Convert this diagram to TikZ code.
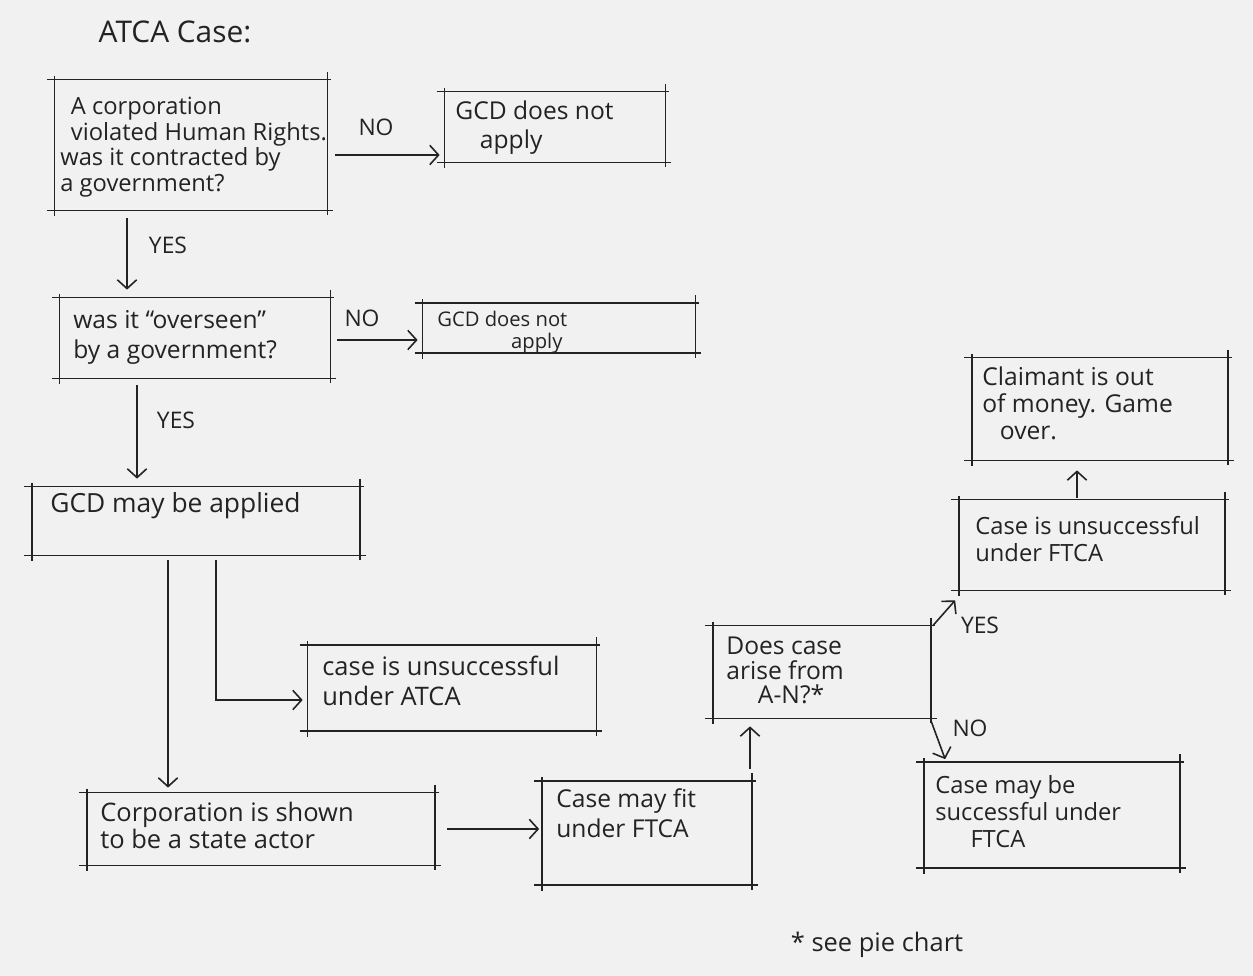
\documentclass[tikz,border=0pt]{standalone}
\usepackage{fontspec}
\setmainfont{Open Sans}
\usetikzlibrary{calc,arrows.meta}
\definecolor{paper}{RGB}{241,241,241}
\definecolor{ink}{RGB}{35,35,35}
\newcommand\handbox[1]{%
  \draw[edge] ($(#1.north west)+(-8,0)$) -- ($(#1.north east)+(4,0)$);
  \draw[edge] ($(#1.south west)+(-8,0)$) -- ($(#1.south east)+(6,0)$);
  \draw[edge] ($(#1.north west)+(0,-4)$) -- ($(#1.south west)+(0,6)$);
  \draw[edge] ($(#1.north east)+(0,-8)$) -- ($(#1.south east)+(0,5)$);
}
\begin{document}
\begin{tikzpicture}[x=0.02cm,y=-0.02cm,
  edge/.style={draw=ink,line width=0.9pt},
  box/.style={draw=none,inner sep=0pt},
  txt/.style={anchor=north west,inner sep=0pt,align=left,text=ink,font=\fontsize{13.5}{15.5}\selectfont},
  lbl/.style={inner sep=0pt,text=ink,font=\fontsize{13}{15}\selectfont},
  arr/.style={draw=ink,line width=0.9pt,-{Straight Barb[length=5pt,width=11pt]}}]
\fill[paper] (0,0) rectangle (1253,976);
\useasboundingbox (0,0) rectangle (1253,976);

\node[lbl,font=\fontsize{17}{19}\selectfont] (title) at (175,32) {ATCA Case:};

% boxes
\node[box,minimum width=272*0.02cm,minimum height=130*0.02cm] (A) at (191,145) {};
\node[box,minimum width=220*0.02cm,minimum height=70*0.02cm] (G1) at (555,127) {};
\node[box,minimum width=270*0.02cm,minimum height=80*0.02cm] (O) at (195,338) {};
\node[box,minimum width=272*0.02cm,minimum height=49*0.02cm] (G2) at (559,328) {};
\node[box,minimum width=327*0.02cm,minimum height=68*0.02cm] (M) at (196,521) {};
\node[box,minimum width=288*0.02cm,minimum height=85*0.02cm] (UA) at (452,688) {};
\node[box,minimum width=347*0.02cm,minimum height=72*0.02cm] (S) at (261,829) {};
\node[box,minimum width=209*0.02cm,minimum height=103*0.02cm] (F) at (647,833) {};
\node[box,minimum width=217*0.02cm,minimum height=92*0.02cm] (AN) at (822,672) {};
\node[box,minimum width=265*0.02cm,minimum height=90*0.02cm] (UF) at (1092,545) {};
\node[box,minimum width=255*0.02cm,minimum height=102*0.02cm] (C) at (1100,409) {};
\node[box,minimum width=255*0.02cm,minimum height=105*0.02cm] (MS) at (1052,815) {};
\foreach \b in {A,G1,O,G2,M,UA,S,F,AN,UF,C,MS} {\handbox{\b}}

% texts
\node[txt,font=\fontsize{13.5}{14.5}\selectfont] (tA) at (60,97) {\hspace{6pt}A corporation\\\hspace{6pt}violated Human Rights.\\was it contracted by\\a government?};
\node[txt,font=\fontsize{14}{17}\selectfont] (tG1) at (455,100) {GCD does not\\\hspace{14pt}apply};
\node[txt,font=\fontsize{14}{17}\selectfont] (tO) at (73,310) {was it ``overseen''\\by a government?};
\node[txt,font=\fontsize{11.5}{12.5}\selectfont] (tG2) at (437,311) {GCD does not\\\hspace{42pt}apply};
\node[txt,font=\fontsize{15}{17}\selectfont] (tM) at (50,492) {GCD may be applied};
\node[txt,font=\fontsize{14.5}{17}\selectfont] (tUA) at (322,656) {case is unsuccessful\\under ATCA};
\node[txt,font=\fontsize{14.5}{15}\selectfont] (tS) at (100,802) {Corporation is shown\\to be a state actor};
\node[txt,font=\fontsize{14}{17}\selectfont] (tF) at (556,788) {Case may fit\\under FTCA};
\node[txt,font=\fontsize{14}{13.8}\selectfont] (tAN) at (726,637) {Does case\\arise from\\\hspace{18pt}A-N?*};
\node[txt] (tUF) at (975,516) {Case is unsuccessful\\under FTCA};
\node[txt,font=\fontsize{14}{15.5}\selectfont] (tC) at (982,366) {Claimant is out\\of money. Game\\\hspace{10pt}over.};
\node[txt,font=\fontsize{13.5}{15.5}\selectfont] (tMS) at (935,775) {Case may be\\successful under\\\hspace{20pt}FTCA};

% connectors
\draw[arr] ($(A.east)+(8,10)$) -- ($(G1.west|-A.east)+(-5,10)$);
\draw[arr] ($(A.south)+(-64,8)$) -- ($(O.north)+(-68,-8)$);
\draw[arr] ($(O.east)+(7,2)$) -- ($(G2.west|-O.east)+(-5,2)$);
\draw[arr] ($(O.south)+(-58,7)$) -- ($(M.north)+(-59,-8)$);
\draw[arr] ($(M.south)+(-28,5)$) -- ($(S.north)+(-93,-5)$);
\draw[arr] ($(M.south)+(20,5)$) |- ($(UA.west)+(-5,12)$);
\draw[arr] ($(S.east)+(12,0)$) -- ($(F.west|-S.east)+(-3,0)$);
\draw[arr] ($(F.north)+(103,-12)$) -- ($(AN.south)+(-72,8)$);
\draw[arr] ($(AN.north east)+(2,0)$) -- ($(UF.south west)+(-4,10)$);
\draw[arr] ($(AN.south east)+(0,2)$) -- ($(MS.north west)+(21,-3)$);
\draw[arr] ($(UF.north)+(-15,-2)$) -- ($(C.south)+(-23,10)$);

% connector labels
\node[lbl] (n1) at (376,127) {NO};
\node[lbl] (y1) at (168,245) {YES};
\node[lbl] (n2) at (362,318) {NO};
\node[lbl] (y2) at (176,420) {YES};
\node[lbl] (y3) at (980,625) {YES};
\node[lbl] (n3) at (970,728) {NO};

\node[lbl,font=\fontsize{14.5}{16}\selectfont] (foot) at (877,945) {* see pie chart};
\end{tikzpicture}
\end{document}
